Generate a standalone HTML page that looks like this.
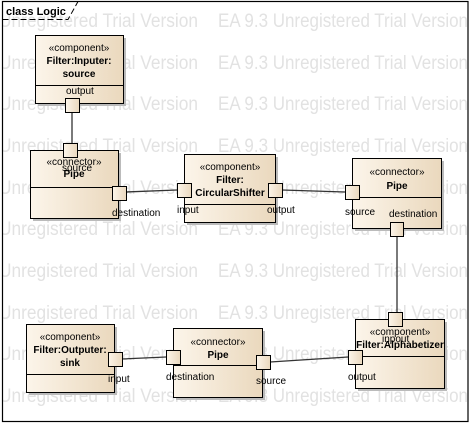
<!DOCTYPE html>
<html><head><meta charset="utf-8"><style>
html,body{margin:0;padding:0;background:#fff;}
svg{display:block;font-family:"Liberation Sans",Arial,sans-serif;}
</style></head><body>
<svg width="470" height="423" viewBox="0 0 470 423" xmlns="http://www.w3.org/2000/svg">
<defs>
<linearGradient id="g" x1="0" x2="1" y1="0" y2="0"><stop offset="0" stop-color="#fcf5ea"/><stop offset="1" stop-color="#ead8bd"/></linearGradient>
<clipPath id="c"><rect x="3" y="3" width="465" height="418"/></clipPath>
</defs>
<rect width="470" height="423" fill="#fff"/>
<g clip-path="url(#c)" fill="#e2e2e2" font-size="19">
<text x="-1" y="27" textLength="199" lengthAdjust="spacingAndGlyphs">Unregistered Trial Version</text><text x="218" y="27" textLength="250" lengthAdjust="spacingAndGlyphs">EA 9.3 Unregistered Trial Version</text>
<text x="-1" y="69" textLength="199" lengthAdjust="spacingAndGlyphs">Unregistered Trial Version</text><text x="218" y="69" textLength="250" lengthAdjust="spacingAndGlyphs">EA 9.3 Unregistered Trial Version</text>
<text x="-1" y="110" textLength="199" lengthAdjust="spacingAndGlyphs">Unregistered Trial Version</text><text x="218" y="110" textLength="250" lengthAdjust="spacingAndGlyphs">EA 9.3 Unregistered Trial Version</text>
<text x="-1" y="152" textLength="199" lengthAdjust="spacingAndGlyphs">Unregistered Trial Version</text><text x="218" y="152" textLength="250" lengthAdjust="spacingAndGlyphs">EA 9.3 Unregistered Trial Version</text>
<text x="-1" y="194" textLength="199" lengthAdjust="spacingAndGlyphs">Unregistered Trial Version</text><text x="218" y="194" textLength="250" lengthAdjust="spacingAndGlyphs">EA 9.3 Unregistered Trial Version</text>
<text x="-1" y="235" textLength="199" lengthAdjust="spacingAndGlyphs">Unregistered Trial Version</text><text x="218" y="235" textLength="250" lengthAdjust="spacingAndGlyphs">EA 9.3 Unregistered Trial Version</text>
<text x="-1" y="277" textLength="199" lengthAdjust="spacingAndGlyphs">Unregistered Trial Version</text><text x="218" y="277" textLength="250" lengthAdjust="spacingAndGlyphs">EA 9.3 Unregistered Trial Version</text>
<text x="-1" y="319" textLength="199" lengthAdjust="spacingAndGlyphs">Unregistered Trial Version</text><text x="218" y="319" textLength="250" lengthAdjust="spacingAndGlyphs">EA 9.3 Unregistered Trial Version</text>
<text x="-1" y="360" textLength="199" lengthAdjust="spacingAndGlyphs">Unregistered Trial Version</text><text x="218" y="360" textLength="250" lengthAdjust="spacingAndGlyphs">EA 9.3 Unregistered Trial Version</text>
<text x="-1" y="402" textLength="199" lengthAdjust="spacingAndGlyphs">Unregistered Trial Version</text><text x="218" y="402" textLength="250" lengthAdjust="spacingAndGlyphs">EA 9.3 Unregistered Trial Version</text>
</g>
<rect x="2.5" y="1.5" width="465.5" height="420" fill="none" stroke="#000" stroke-width="1.2"/>
<path d="M2.5 19.5 H68 L78 1.5" fill="none" stroke="#000" stroke-dasharray="6,3"/>
<text x="6" y="15" font-size="11" font-weight="bold">class Logic</text>

<g stroke="#333" stroke-width="1.3" fill="none">
<line x1="72" y1="112" x2="72" y2="143"/>
<line x1="126" y1="192" x2="177" y2="190"/>
<line x1="282" y1="190" x2="345" y2="192"/>
<line x1="397" y1="236" x2="397" y2="312"/>
<line x1="122" y1="359" x2="166" y2="357"/>
<line x1="270" y1="362" x2="348" y2="357"/>
</g>

<g font-size="10" text-anchor="middle">
<g fill="#bbb"><rect x="38" y="38" width="88" height="68"/><rect x="33" y="153" width="88" height="68"/><rect x="187" y="157" width="91" height="68"/><rect x="355" y="161" width="89" height="70"/><rect x="29" y="327" width="88" height="68"/><rect x="176" y="331" width="89" height="69"/><rect x="358" y="322" width="89" height="69"/></g>
<g fill="url(#g)" stroke="#000" stroke-width="1">
<rect x="35.5" y="35.5" width="88" height="68"/>
<rect x="30.5" y="150.5" width="88" height="68"/>
<rect x="184.5" y="154.5" width="91" height="68"/>
<rect x="352.5" y="158.5" width="89" height="70"/>
<rect x="26.5" y="324.5" width="88" height="68"/>
<rect x="173.5" y="328.5" width="89" height="69"/>
<rect x="355.5" y="319.5" width="89" height="69"/>
</g>
<g stroke="#000"><line x1="35" y1="85.5" x2="123" y2="85.5"/><line x1="30" y1="187.5" x2="118" y2="187.5"/><line x1="184" y1="204.5" x2="275" y2="204.5"/><line x1="352" y1="197.5" x2="441" y2="197.5"/><line x1="26" y1="374.5" x2="114" y2="374.5"/><line x1="173" y1="365.5" x2="262" y2="365.5"/><line x1="355" y1="356.5" x2="444" y2="356.5"/></g>

<text x="79" y="51">«component»</text><text x="79" y="64" font-weight="bold">Filter:Inputer:</text><text x="79" y="77" font-weight="bold">source</text>
<text x="74" y="165">«connector»</text><text x="74" y="177" font-weight="bold">Pipe</text>
<text x="230" y="170">«component»</text><text x="230" y="183" font-weight="bold">Filter:</text><text x="230" y="196" font-weight="bold">CircularShifter</text>
<text x="397" y="175">«connector»</text><text x="397" y="189" font-weight="bold">Pipe</text>
<text x="70" y="340">«component»</text><text x="70" y="353" font-weight="bold">Filter:Outputer:</text><text x="70" y="366" font-weight="bold">sink</text>
<text x="218" y="345">«connector»</text><text x="218" y="358" font-weight="bold">Pipe</text>
<text x="400" y="335">«component»</text><text x="400" y="348" font-weight="bold">Filter:Alphabetizer</text>
</g>

<g fill="url(#g)" stroke="#000" stroke-width="1">
<rect x="65.5" y="98.5" width="14" height="14"/>
<rect x="63.5" y="143.5" width="14" height="14"/>
<rect x="112.5" y="186.5" width="14" height="14"/>
<rect x="177.5" y="183.5" width="14" height="14"/>
<rect x="268.5" y="183.5" width="14" height="14"/>
<rect x="345.5" y="185.5" width="14" height="14"/>
<rect x="390.5" y="222.5" width="13" height="14"/>
<rect x="108.5" y="352.5" width="14" height="14"/>
<rect x="166.5" y="350.5" width="14" height="14"/>
<rect x="256.5" y="355.5" width="14" height="14"/>
<rect x="388.5" y="312.5" width="14" height="14"/>
<rect x="348.5" y="350.5" width="14" height="14"/>
</g>

<g font-size="10">
<text x="66" y="94">output</text>
<text x="62" y="171">source</text>
<text x="112" y="216">destination</text>
<text x="177" y="213">input</text>
<text x="267" y="213">output</text>
<text x="345" y="215">source</text>
<text x="389" y="217">destination</text>
<text x="108" y="382">input</text>
<text x="166" y="380">destination</text>
<text x="256" y="384">source</text>
<text x="382" y="342">inpout</text>
<text x="348" y="380">output</text>
</g>
</svg>
</body></html>
